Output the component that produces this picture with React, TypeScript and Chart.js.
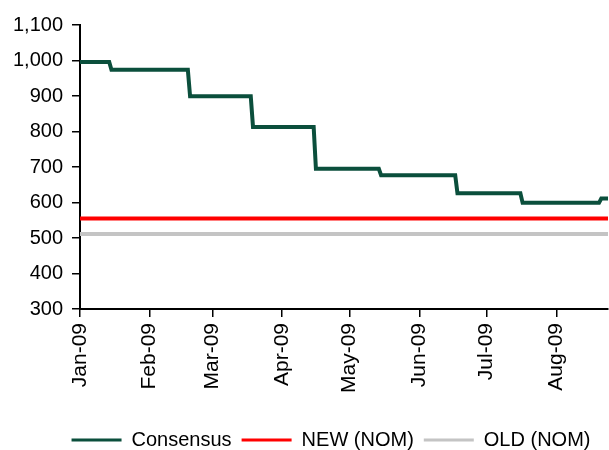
import { useEffect, useRef } from "react";
import { Chart, registerables } from "chart.js";

Chart.register(...registerables);

// Month axis: labels and the day index (from 1 Jan 2009) where each month starts
const monthLabels = ["Jan-09", "Feb-09", "Mar-09", "Apr-09", "May-09", "Jun-09", "Jul-09", "Aug-09"];
const monthStartDays = [0, 31, 59, 90, 120, 151, 181, 212];
const lastDay = 235;

// Consensus estimate: day it changed and the level it moved to
const consensusChangeDays = [0, 14, 49, 77, 105, 134, 168, 197, 232];
const consensusValues = [996, 974, 899, 813, 695, 677, 626, 599, 611];

// Flat reference levels
const newNom = 555;
const oldNom = 511;

const yMin = 300;
const yMax = 1100;
const yStep = 100;

const FONT = "'Liberation Sans', Arial, sans-serif";

function consensusPoints() {
  const pts: { x: number; y: number }[] = [];
  consensusChangeDays.forEach((d, i) => {
    const end = i + 1 < consensusChangeDays.length ? consensusChangeDays[i + 1] - 1 : lastDay;
    pts.push({ x: d, y: consensusValues[i] });
    pts.push({ x: end, y: consensusValues[i] });
  });
  return pts;
}

// Nudges the bottom legend into place after the layout pass
const legendShift = {
  id: "legendShift",
  afterLayout(chart: any) {
    const lg = chart.legend;
    if (!lg) return;
    const dx = 27;
    const dy = 10;
    lg.left += dx;
    lg.right += dx;
    lg.top += dy;
    lg.bottom += dy;
  },
};

export default function App() {
  const canvasRef = useRef<HTMLCanvasElement | null>(null);

  useEffect(() => {
    document.body.style.margin = "0";
    const canvas = canvasRef.current;
    if (!canvas) return;

    const axisGrid = {
      display: true,
      drawOnChartArea: false,
      drawTicks: true,
      tickLength: 8,
      color: "#000",
      lineWidth: 1.5,
    };

    const chart = new Chart(canvas, {
      type: "line",
      data: {
        datasets: [
          {
            label: "Consensus",
            data: consensusPoints(),
            borderColor: "#0B4F3C",
            backgroundColor: "#0B4F3C",
            borderWidth: 4,
            pointRadius: 0,
            tension: 0,
          },
          {
            label: "NEW (NOM)",
            data: [
              { x: 0, y: newNom },
              { x: lastDay, y: newNom },
            ],
            borderColor: "#FF0000",
            backgroundColor: "#FF0000",
            borderWidth: 4,
            pointRadius: 0,
          },
          {
            label: "OLD (NOM)",
            data: [
              { x: 0, y: oldNom },
              { x: lastDay, y: oldNom },
            ],
            borderColor: "#C4C4C4",
            backgroundColor: "#C4C4C4",
            borderWidth: 4,
            pointRadius: 0,
          },
        ],
      },
      options: {
        animation: false,
        responsive: true,
        maintainAspectRatio: false,
        layout: { padding: { top: 25, right: 1, left: 0, bottom: 0 } },
        scales: {
          x: {
            type: "linear",
            min: 0,
            max: lastDay,
            afterBuildTicks: (scale: any) => {
              scale.ticks = monthStartDays.map((v) => ({ value: v }));
            },
            afterFit: (scale: any) => {
              const lh = scale.chart.legend ? scale.chart.legend.height : 0;
              scale.height = 450 - 309 - lh;
            },
            ticks: {
              autoSkip: false,
              minRotation: 90,
              maxRotation: 90,
              padding: 6,
              color: "#000",
              font: { family: FONT, size: 21 },
              callback: (v: any) => {
                const i = monthStartDays.indexOf(Number(v));
                return i >= 0 ? monthLabels[i] : "";
              },
            },
            grid: axisGrid,
            border: { display: true, color: "#000", width: 2 },
          },
          y: {
            min: yMin,
            max: yMax,
            afterFit: (scale: any) => {
              scale.width = 80;
            },
            ticks: {
              stepSize: yStep,
              padding: 9,
              color: "#000",
              font: { family: FONT, size: 20 },
              callback: (v: any) => Number(v).toLocaleString("en-US"),
            },
            grid: axisGrid,
            border: { display: true, color: "#000", width: 2 },
          },
        },
        plugins: {
          tooltip: { enabled: false },
          legend: {
            position: "bottom",
            labels: {
              boxWidth: 50,
              boxHeight: 3,
              padding: 10,
              color: "#000",
              font: { family: FONT, size: 20 },
              generateLabels: (chart: any) =>
                Chart.defaults.plugins.legend.labels
                  .generateLabels(chart)
                  .map((item: any) => ({ ...item, fillStyle: item.strokeStyle, lineWidth: 0 })),
            },
          },
        },
      },
      plugins: [legendShift],
    });

    return () => chart.destroy();
  }, []);

  return (
    <div style={{ position: "relative", width: 609, height: 450 }}>
      <canvas ref={canvasRef} />
    </div>
  );
}
